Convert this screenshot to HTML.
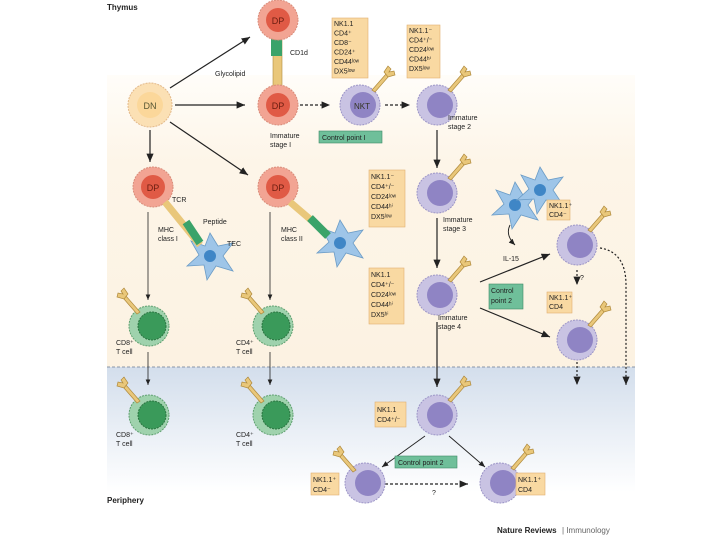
<!DOCTYPE html>
<html><head><meta charset="utf-8"><style>
html,body{margin:0;padding:0;background:#fff}
svg{display:block}
text{font-family:"Liberation Sans",sans-serif}
</style></head><body>
<svg width="720" height="540" viewBox="0 0 720 540" xmlns="http://www.w3.org/2000/svg">
<defs>
<linearGradient id="bl" x1="0" y1="0" x2="0" y2="1"><stop offset="0" stop-color="#d3deec"/><stop offset="1" stop-color="#ffffff"/></linearGradient>
<linearGradient id="cr" x1="0" y1="0" x2="0" y2="1"><stop offset="0" stop-color="#fffdf9"/><stop offset="0.3" stop-color="#fdf5e8"/><stop offset="1" stop-color="#fcf2e2"/></linearGradient>
<marker id="a" markerWidth="8" markerHeight="8" refX="7" refY="4" orient="auto"><path d="M0,1 L7,4 L0,7z" fill="#222"/></marker>
<g id="dp"><circle r="20" fill="#f2a493" stroke="#d98c7a" stroke-dasharray="2 1"/><circle r="12" fill="#e05a45"/><text y="4" font-size="9" text-anchor="middle" fill="#6a1d10">DP</text></g>
<g id="nk"><circle r="20" fill="#c9c3e3" stroke="#9c95c7" stroke-dasharray="2 1"/><circle cx="3" cy="0" r="13" fill="#8f84c4"/></g>
<g id="gr"><circle r="20" fill="#9fd2ad" stroke="#5fa070" stroke-dasharray="2 1"/><circle cx="3" r="14" fill="#3a9a5a" stroke="#2a7440" stroke-dasharray="2 1"/></g>
<g id="tcr" fill="#e9c77a" stroke="#b08a3c" stroke-width="0.7"><path d="M0,0 L14,-16 L17,-14 L3,2z"/><path d="M12,-18 l4,-6 l3,3 l-2,3 l5,-1 l1,4 l-7,2z"/></g>
<g id="star"><path d="M0,-23 L8,-10 L23,-13 L13,0 L23,15 L6,10 L-3,24 L-6,9 L-23,10 L-11,-1 L-19,-15 L-5,-10z" fill="#9ec5e8" stroke="#6b9cc6" stroke-width="0.8"/><circle r="6" fill="#3f86c6"/></g>
</defs>
<rect width="720" height="540" fill="#fff"/>
<rect x="107" y="75" width="528" height="292" fill="url(#cr)"/>
<rect x="107" y="367" width="528" height="125" fill="url(#bl)"/>
<line x1="107" y1="367" x2="635" y2="367" stroke="#8a97a8" stroke-dasharray="3 2"/>
<text x="107" y="10" font-size="8" font-weight="bold" fill="#222">Thymus</text>
<text x="107" y="503" font-size="8" font-weight="bold" fill="#222">Periphery</text>
<text x="497" y="533" font-size="8" font-weight="bold" fill="#222">Nature Reviews</text><text x="562" y="533" font-size="8" fill="#666">| Immunology</text>
<g stroke="#222" stroke-width="1.2" fill="none">
<line x1="170" y1="88" x2="250" y2="37" marker-end="url(#a)"/>
<line x1="175" y1="105" x2="245" y2="105" marker-end="url(#a)"/>
<line x1="170" y1="122" x2="248" y2="175" marker-end="url(#a)"/>
<line x1="150" y1="130" x2="150" y2="162" marker-end="url(#a)"/>
<line x1="300" y1="105" x2="330" y2="105" stroke-dasharray="3 2" marker-end="url(#a)"/>
<line x1="385" y1="105" x2="410" y2="105" stroke-dasharray="3 2" marker-end="url(#a)"/>
<line x1="437" y1="130" x2="437" y2="168" marker-end="url(#a)"/>
<line x1="437" y1="218" x2="437" y2="268" marker-end="url(#a)"/>
<line x1="437" y1="322" x2="437" y2="387" marker-end="url(#a)"/>
<line x1="148" y1="212" x2="148" y2="300" stroke-width="0.8" marker-end="url(#a)"/>
<line x1="270" y1="212" x2="270" y2="300" stroke-width="0.8" marker-end="url(#a)"/>
<line x1="148" y1="352" x2="148" y2="385" stroke-width="0.8" marker-end="url(#a)"/>
<line x1="270" y1="352" x2="270" y2="385" stroke-width="0.8" marker-end="url(#a)"/>
<line x1="480" y1="282" x2="550" y2="254" marker-end="url(#a)"/>
<line x1="480" y1="308" x2="550" y2="337" marker-end="url(#a)"/>
<line x1="577" y1="270" x2="577" y2="285" stroke-dasharray="2 2" marker-end="url(#a)"/>
<line x1="577" y1="362" x2="577" y2="385" stroke-dasharray="2 2" marker-end="url(#a)"/>
<path d="M600,248 Q626,252 626,285 L626,385" stroke-dasharray="2 2" marker-end="url(#a)"/>
<path d="M510,225 Q505,235 515,245" stroke-width="0.9" marker-end="url(#a)"/>
<line x1="425" y1="436" x2="382" y2="467" stroke-width="0.9" marker-end="url(#a)"/>
<line x1="449" y1="436" x2="485" y2="467" stroke-width="0.9" marker-end="url(#a)"/>
<line x1="385" y1="484" x2="468" y2="484" stroke-dasharray="3 2" marker-end="url(#a)"/>
</g>
<use href="#star" x="210" y="256"/>
<use href="#star" x="340" y="243"/>
<use href="#star" x="515" y="205"/><use href="#star" x="540" y="190"/>
<circle cx="150" cy="105" r="22" fill="#fbe0b4" stroke="#e3b98a" stroke-dasharray="2 1"/><circle cx="150" cy="105" r="13" fill="#fbd79a"/><text x="150" y="109" font-size="9" text-anchor="middle" fill="#553">DN</text>
<rect x="273" y="38" width="9" height="48" fill="#e9c77a" stroke="#b08a3c" stroke-width="0.6"/>
<rect x="271" y="38" width="11" height="18" fill="#3aa36a"/>
<use href="#dp" x="278" y="20"/><use href="#dp" x="278" y="105"/>
<use href="#dp" x="153" y="187"/><use href="#dp" x="278" y="187"/>
<path d="M165,202 L200,245" stroke="#e9c77a" stroke-width="7"/><path d="M186,222 L200,243" stroke="#3aa36a" stroke-width="8"/>
<path d="M290,202 L325,232" stroke="#e9c77a" stroke-width="7"/><path d="M310,218 L328,236" stroke="#3aa36a" stroke-width="8"/>
<use href="#nk" x="360" y="105"/><text x="362" y="109" font-size="8" text-anchor="middle" fill="#332">NKT</text>
<use href="#tcr" x="372" y="90"/>
<use href="#nk" x="437" y="105"/><use href="#tcr" x="448" y="90"/>
<use href="#nk" x="437" y="193"/><use href="#tcr" x="448" y="178"/>
<use href="#nk" x="437" y="295"/><use href="#tcr" x="448" y="280"/>
<use href="#nk" x="577" y="245"/><use href="#tcr" x="588" y="230"/>
<use href="#nk" x="577" y="340"/><use href="#tcr" x="588" y="325"/>
<use href="#nk" x="437" y="415"/><use href="#tcr" x="448" y="400"/>
<use href="#nk" x="365" y="483"/><use href="#tcr" x="356" y="470" transform="scale(-1,1) translate(-712,0)"/>
<use href="#nk" x="500" y="483"/><use href="#tcr" x="511" y="468"/>
<use href="#gr" x="149" y="326"/><use href="#tcr" x="140" y="312" transform="scale(-1,1) translate(-280,0)"/>
<use href="#gr" x="273" y="326"/><use href="#tcr" x="264" y="312" transform="scale(-1,1) translate(-528,0)"/>
<use href="#gr" x="149" y="415"/><use href="#tcr" x="140" y="401" transform="scale(-1,1) translate(-280,0)"/>
<use href="#gr" x="273" y="415"/><use href="#tcr" x="264" y="401" transform="scale(-1,1) translate(-528,0)"/>
<g fill="#f9d9a2" stroke="#e0b070" stroke-width="0.6">
<rect x="332" y="18" width="36" height="60"/><rect x="407" y="25" width="33" height="53"/>
<rect x="369" y="170" width="36" height="57"/><rect x="369" y="268" width="35" height="56"/>
<rect x="547" y="200" width="23" height="20"/><rect x="547" y="292" width="25" height="21"/>
<rect x="375" y="402" width="31" height="25"/><rect x="311" y="473" width="28" height="22"/><rect x="516" y="473" width="29" height="22"/>
</g>
<g fill="#6fbf9a" stroke="#3e8a68" stroke-width="0.6">
<rect x="319" y="131" width="63" height="12"/><rect x="489" y="284" width="34" height="25"/><rect x="395" y="456" width="62" height="12"/>
</g>
<g font-size="7" fill="#222">
<text x="334" y="26">NK1.1<tspan x="334" dy="9.5">CD4⁺</tspan><tspan x="334" dy="9.5">CD8⁻</tspan><tspan x="334" dy="9.5">CD24⁺</tspan><tspan x="334" dy="9.5">CD44ˡᵒʷ</tspan><tspan x="334" dy="9.5">DX5ˡᵒʷ</tspan></text>
<text x="409" y="33">NK1.1⁻<tspan x="409" dy="9.5">CD4⁺/⁻</tspan><tspan x="409" dy="9.5">CD24ˡᵒʷ</tspan><tspan x="409" dy="9.5">CD44ʰⁱ</tspan><tspan x="409" dy="9.5">DX5ˡᵒʷ</tspan></text>
<text x="371" y="179">NK1.1⁻<tspan x="371" dy="10">CD4⁺/⁻</tspan><tspan x="371" dy="10">CD24ˡᵒʷ</tspan><tspan x="371" dy="10">CD44ʰⁱ</tspan><tspan x="371" dy="10">DX5ˡᵒʷ</tspan></text>
<text x="371" y="277">NK1.1<tspan x="371" dy="10">CD4⁺/⁻</tspan><tspan x="371" dy="10">CD24ˡᵒʷ</tspan><tspan x="371" dy="10">CD44ʰⁱ</tspan><tspan x="371" dy="10">DX5ʰⁱ</tspan></text>
<text x="549" y="208">NK1.1⁺<tspan x="549" dy="9">CD4⁻</tspan></text>
<text x="549" y="300">NK1.1⁺<tspan x="549" dy="9">CD4</tspan></text>
<text x="377" y="412">NK1.1<tspan x="377" dy="10">CD4⁺/⁻</tspan></text>
<text x="313" y="482">NK1.1⁺<tspan x="313" dy="10">CD4⁻</tspan></text>
<text x="518" y="482">NK1.1⁺<tspan x="518" dy="10">CD4</tspan></text>
<text x="322" y="140">Control point I</text>
<text x="491" y="293">Control<tspan x="491" dy="10">point 2</tspan></text>
<text x="398" y="465">Control point 2</text>
<text x="290" y="55">CD1d</text><text x="215" y="76">Glycolipid</text>
<text x="270" y="138">Immature<tspan x="270" dy="9">stage I</tspan></text>
<text x="448" y="120">Immature<tspan x="448" dy="9">stage 2</tspan></text>
<text x="443" y="222">Immature<tspan x="443" dy="9">stage 3</tspan></text>
<text x="438" y="320">Immature<tspan x="438" dy="9">stage 4</tspan></text>
<text x="172" y="202">TCR</text><text x="203" y="224">Peptide</text><text x="158" y="232">MHC<tspan x="158" dy="9">class I</tspan></text><text x="227" y="246">TEC</text>
<text x="281" y="232">MHC<tspan x="281" dy="9">class II</tspan></text>
<text x="116" y="345">CD8⁺<tspan x="116" dy="9">T cell</tspan></text><text x="236" y="345">CD4⁺<tspan x="236" dy="9">T cell</tspan></text>
<text x="116" y="437">CD8⁺<tspan x="116" dy="9">T cell</tspan></text><text x="236" y="437">CD4⁺<tspan x="236" dy="9">T cell</tspan></text>
<text x="503" y="261">IL-15</text><text x="580" y="280">?</text><text x="432" y="495">?</text>
</g>
</svg>
</body></html>
